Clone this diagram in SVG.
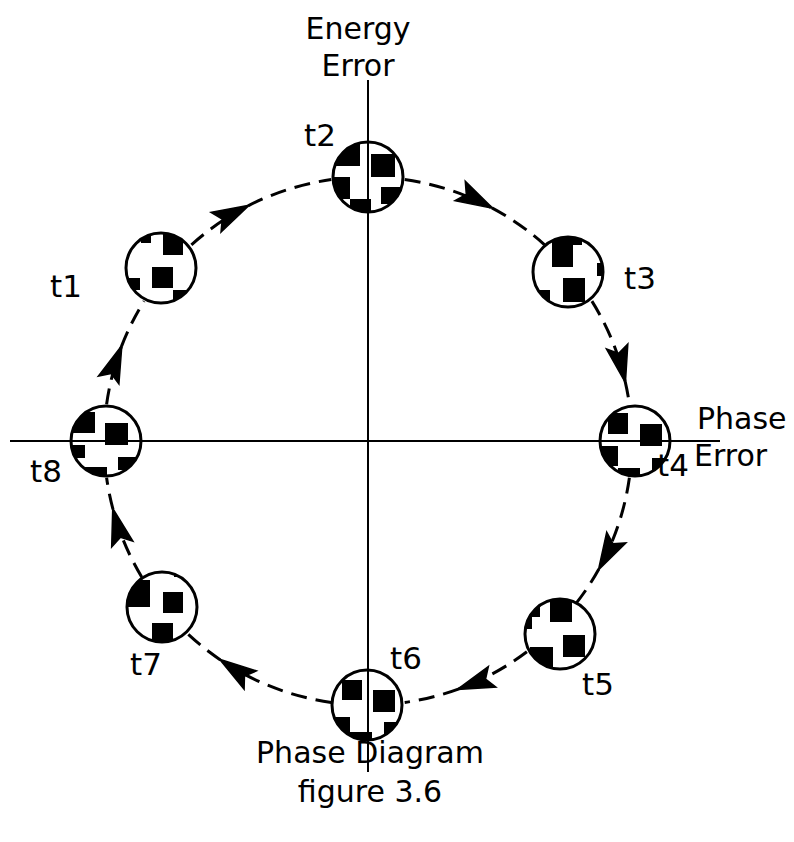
<svg xmlns="http://www.w3.org/2000/svg" width="794" height="842" viewBox="0 0 794 842">
<style>
text{font-family:"DejaVu Sans","Liberation Sans",sans-serif;font-size:30px;fill:#000}
.t{font-size:31px}
.ax{stroke:#000;stroke-width:2;fill:none}
.ring{fill:none;stroke:#000;stroke-width:3}
.conn{fill:none;stroke:#000;stroke-width:3;stroke-dasharray:16 9}
</style>
<defs>
<clipPath id="cc"><circle cx="0" cy="0" r="35"/></clipPath>
<marker id="ah" viewBox="-40 -14 42 28" refX="0" refY="0" markerWidth="42" markerHeight="28" markerUnits="userSpaceOnUse" orient="auto"><path d="M1,0 L-36,-11 L-29,0 L-36,11 Z" fill="#000" stroke="#000" stroke-width="1.5" stroke-linejoin="miter"/></marker>
</defs>
<rect width="794" height="842" fill="#fff"/>
<g id="axes">
<line class="ax" x1="368" y1="80" x2="368" y2="772"/>
<line class="ax" x1="10" y1="441" x2="720" y2="441"/>
</g>
<g id="connectors">
<path class="conn" d="M191.4,244.8 A264,264 0 0 1 248.1,205.8" marker-end="url(#ah)"/>
<path class="conn" d="M248.1,205.8 A264,264 0 0 1 331.3,179.6"/>
<path class="conn" d="M404.7,179.6 A264,264 0 0 1 491.9,207.9" marker-end="url(#ah)"/>
<path class="conn" d="M491.9,207.9 A264,264 0 0 1 544.6,244.8"/>
<path class="conn" d="M591.9,301.1 A264,264 0 0 1 625.2,381.6" marker-end="url(#ah)"/>
<path class="conn" d="M625.2,381.6 A264,264 0 0 1 629.4,404.3"/>
<path class="conn" d="M629.4,477.7 A264,264 0 0 1 598.9,569.0" marker-end="url(#ah)"/>
<path class="conn" d="M598.9,569.0 A264,264 0 0 1 576.0,603.5"/>
<path class="conn" d="M526.9,651.8 A264,264 0 0 1 458.3,689.1" marker-end="url(#ah)"/>
<path class="conn" d="M458.3,689.1 A264,264 0 0 1 404.7,702.4"/>
<path class="conn" d="M331.3,702.4 A264,264 0 0 1 220.4,659.9" marker-end="url(#ah)"/>
<path class="conn" d="M220.4,659.9 A264,264 0 0 1 188.0,634.1"/>
<path class="conn" d="M141.7,577.0 A264,264 0 0 1 113.0,509.3" marker-end="url(#ah)"/>
<path class="conn" d="M113.0,509.3 A264,264 0 0 1 106.6,477.7"/>
<path class="conn" d="M106.6,404.3 A264,264 0 0 1 121.5,346.4" marker-end="url(#ah)"/>
<path class="conn" d="M121.5,346.4 A264,264 0 0 1 144.1,301.1"/>
</g>
<g id="t1" transform="translate(161,268)">
<g clip-path="url(#cc)"><path d="M2,-37h20v24h-20z M-9,-1h21v21h-21z M-35,10h14v12h-14z M12,22h23v15h-23z M-20,-37h10v12h-10z"/></g>
<circle class="ring" r="35"/>
</g>
<g id="t2" transform="translate(368,177)">
<g clip-path="url(#cc)"><path d="M-35,-40h27v29h-27z M3,-23h24v23h-24z M-35,0h17v22h-17z M-18,22h21v20h-21z M13,10h22v17h-22z"/></g>
<circle class="ring" r="35"/>
</g>
<g id="t3" transform="translate(568,272)">
<g clip-path="url(#cc)"><path d="M-16,-37h30v10h-30z M-16,-27h21v22h-21z M-5,6h22v24h-22z M-35,18h17v19h-17z M29,-9h6v13h-6z"/></g>
<circle class="ring" r="35"/>
</g>
<g id="t4" transform="translate(635,441)">
<g clip-path="url(#cc)"><path d="M-27,-28h20v21h-20z M5,-17h22v22h-22z M-35,5h18v20h-18z M-17,27h22v10h-22z M17,17h18v13h-18z"/></g>
<circle class="ring" r="35"/>
</g>
<g id="t5" transform="translate(560,634)">
<g clip-path="url(#cc)"><path d="M-32,-29h12v12h-12z M-35,-17h7v12h-7z M-10,-34h22v22h-22z M3,1h22v22h-22z M-30,13h23v24h-23z"/></g>
<circle class="ring" r="35"/>
</g>
<g id="t6" transform="translate(367,705)">
<g clip-path="url(#cc)"><path d="M-25,-25h20v20h-20z M6,-15h22v22h-22z M-35,12h18v25h-18z M-17,27h22v10h-22z M17,17h18v13h-18z"/></g>
<circle class="ring" r="35"/>
</g>
<g id="t7" transform="translate(162,607)">
<g clip-path="url(#cc)"><path d="M-35,-27h23v27h-23z M1,-15h20v21h-20z M-10,16h21v21h-21z M12,-37h6v7h-6z"/></g>
<circle class="ring" r="35"/>
</g>
<g id="t8" transform="translate(106,441)">
<g clip-path="url(#cc)"><path d="M-35,-29h24v21h-24z M-1,-18h23v22h-23z M-35,4h14v13h-14z M-21,26h22v11h-22z M12,16h23v13h-23z"/></g>
<circle class="ring" r="35"/>
</g>
<g id="labels">
<text x="358" y="39" text-anchor="middle">Energy</text>
<text x="358" y="76" text-anchor="middle">Error</text>
<text class="t" x="304" y="146">t2</text>
<text class="t" x="624" y="289">t3</text>
<text class="t" x="50" y="297">t1</text>
<text x="697" y="429">Phase</text>
<text x="694" y="466">Error</text>
<text class="t" x="657" y="476">t4</text>
<text class="t" x="30" y="482">t8</text>
<text class="t" x="130" y="675">t7</text>
<text class="t" x="390" y="669">t6</text>
<text class="t" x="582" y="695">t5</text>
<text x="370" y="763" text-anchor="middle">Phase Diagram</text>
<text x="370" y="802" text-anchor="middle">figure 3.6</text>
</g>
</svg>
